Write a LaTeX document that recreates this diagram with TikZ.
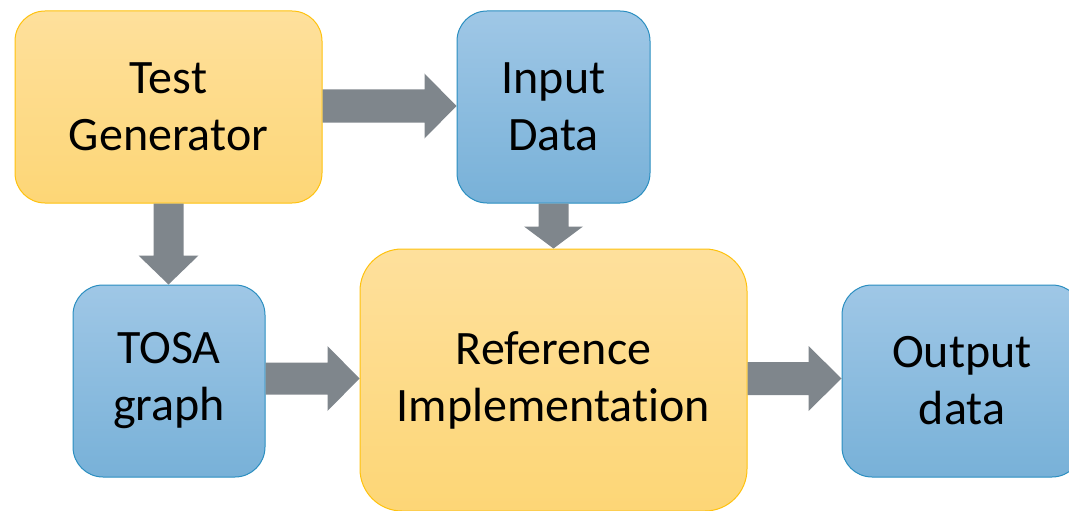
\documentclass[tikz,border=0pt]{standalone}
\usepackage{fontspec}
\setmainfont[Ligatures=NoCommon]{Carlito}
\usetikzlibrary{calc}
\definecolor{orgtop}{HTML}{FEE09C}
\definecolor{orgbot}{HTML}{FDD676}
\definecolor{orgline}{HTML}{FFC20E}
\definecolor{bluetop}{HTML}{9FC7E6}
\definecolor{bluebot}{HTML}{78B1D8}
\definecolor{blueline}{HTML}{2A8EC0}
\definecolor{arrgray}{HTML}{7F868C}
\tikzset{
  box/.style={rectangle, rounded corners=30pt, inner sep=0pt, line width=1pt,
    align=center, font=\fontsize{48}{57}\selectfont},
  orangebox/.style={box, draw=orgline, top color=orgtop, bottom color=orgbot},
  bluebox/.style={box, draw=blueline, top color=bluetop, bottom color=bluebot},
  blockarrow/.style={fill=arrgray, draw=none}
}
% horizontal block arrow: from #1 to #2, shaft half #3, head half #4, head length #5
\newcommand\hblock[5]{%
  \path[blockarrow] let \p1=(#1), \p2=(#2) in
    (\x1,\y1+#3) -- (\x2-#5,\y1+#3) -- (\x2-#5,\y1+#4) -- (\x2,\y1)
    -- (\x2-#5,\y1-#4) -- (\x2-#5,\y1-#3) -- (\x1,\y1-#3) -- cycle;}
% vertical (downward) block arrow
\newcommand\vblock[5]{%
  \path[blockarrow] let \p1=(#1), \p2=(#2) in
    (\x1+#3,\y1) -- (\x1+#3,\y2+#5) -- (\x1+#4,\y2+#5) -- (\x1,\y2)
    -- (\x1-#4,\y2+#5) -- (\x1-#3,\y2+#5) -- (\x1-#3,\y1) -- cycle;}
\begin{document}
\begin{tikzpicture}[x=1pt,y=-1pt]
\useasboundingbox (0,0) rectangle (1069,511);
\node[orangebox, minimum width=307pt, minimum height=192pt] (tg) at (168.5,107) {Test\\Generator};
\node[bluebox, minimum width=193pt, minimum height=192pt] (in) at (553.5,107) {Input\\Data};
\node[bluebox, minimum width=192pt, minimum height=192pt] (tosa) at (169,381) {TOSA\\graph};
\node[orangebox, rounded corners=42pt, minimum width=387pt, minimum height=262pt] (ref) at (553.5,380) {Reference\\Implementation};
\node[bluebox, minimum width=240pt, minimum height=192pt] (out) at (962,381) {Output\\data};

\hblock{$(tg.east)+(0,-1)$}{in.west}{16.5pt}{32.5pt}{32pt}
\vblock{tg.south}{tosa.north}{15pt}{30pt}{29pt}
\vblock{in.south}{ref.north}{15pt}{29.5pt}{22pt}
\hblock{$(tosa.east)+(0,-2.5)$}{ref.west}{16pt}{32.5pt}{32pt}
\hblock{$(ref.east)+(0,-1.5)$}{out.west}{16.5pt}{32.5pt}{33pt}
\end{tikzpicture}
\end{document}
